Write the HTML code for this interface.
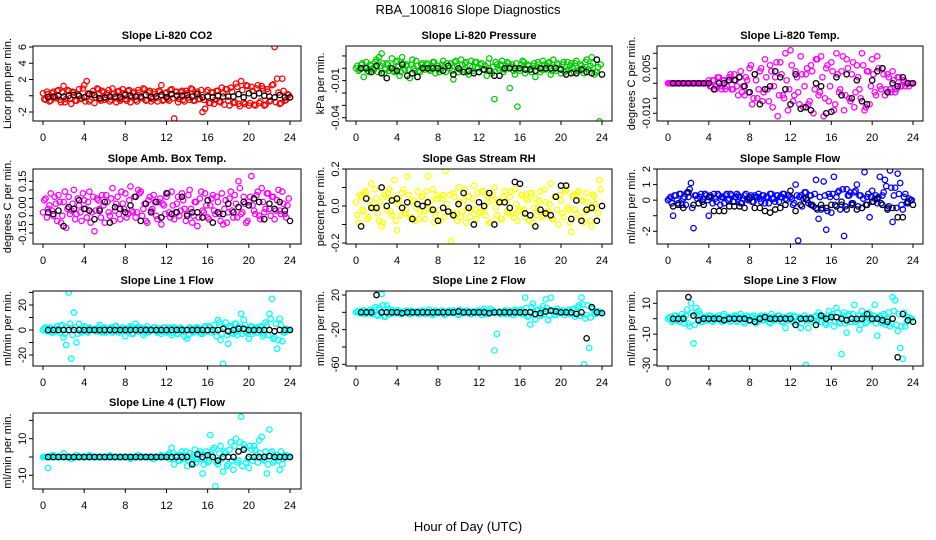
<!DOCTYPE html>
<html><head><meta charset="utf-8"><style>
body{margin:0;background:#fff}
svg{display:block;font-family:"Liberation Sans",sans-serif}
</style></head><body>
<svg id="chart" width="936" height="540" viewBox="0 0 936 540" xmlns="http://www.w3.org/2000/svg">
<rect width="936" height="540" fill="#fff"/>
<text x="468" y="14" text-anchor="middle" font-size="13">RBA_100816  Slope Diagnostics</text>
<text x="468" y="531" text-anchor="middle" font-size="13">Hour of Day (UTC)</text>
</svg>
<script>
// colored series A: x = i*0.25 h ; colored series B: x = i*0.25+0.125 h ; black series: x = 0.5 + i*0.5 h
const co2Col=[.3,-.5,.2,-.6,.5,-.3,.7,-.8,1.2,-.4,.6,-1,.4,-.6,.8,-.3,1.3,1.8,-.7,.2,-.9,.9,-.4,.6,-.5,.3,-.7,.9,-.3,.5,-.6,.8,-.4,.6,-.8,.3,-.5,.7,-.3,.9,-.6,.4,-.7,.5,-.3,.6,1.3,-.5,.4,-.6,.8,-2.8,.5,-.4,.6,-.7,.3,-.5,.8,-.6,.5,-.4,-2,-1.6,.7,-.9,.4,-.5,.6,-.8,.3,.8,-.6,1,-.9,1.5,-1,1.8,-.8,1.3,-1.2,1.1,-1.1,.9,-.9,1.2,-1.2,.8,-.7,1.3,6,2.1,-1,2.1,-.6,.2];
const co2ColB=[-.4,.5,-.7,.3,-.2,.6,-.5,.4,-.8,.7,-.3,.5,-.6,.2,-.4,.9,-.7,.3,-.5,.6,-.2,.8,-.6,.4,-.3,.7,-.5,.2,-.8,.6,-.4,.3,-.6,.7,-.2,.5,-.7,.4,-.3,.8,-.5,.6,-.4,.2,-.7,.5,-.6,.3,-.4,.7,-.3,.5,-.8,.4,-.5,.6,-.2,.9,-.6,.3,-.4,.7,-.5,.5,-.9,.4,-1,.6,-.7,1,-1.1,.8,-1.2,.5,-.8,1.1,-1.3,.7,-1,1.2,-.9,.6,-1.2,1.3,-.7,.9,-1.1,.5,-.6,1.4,-.8,.4,-.9,.6,-.5,.1];
const co2Blk=[-.2,-.1,0,-.1,0,.1,0,-.2,.2,.1,-.3,-.2,-.1,-.1,-.2,.1,0,-.1,-.1,.1,-.2,-.1,.1,-.2,.2,0,0,.1,-.1,.2,-.2,-.1,-.2,0,-.1,-.1,-.1,.2,-.2,.3,0,.3,0,-.1,-.2,.1,-.2,-.2];
const presCol_milli=[0,-2,3,-7,5,-3,2,-1,7,9,12,-4,4,-2,8,-3,6,-6,9,-1,3,-8,7,-2,2,-3,4,-1,3,-2,5,-4,2,-1,6,-3,-45,4,-9,6,-3,7,-1,5,-5,6,-2,5,-3,4,-1,-6,8,-4,-25,3,-2,6,-1,5,-16,3,-5,-31,-2,6,-4,3,-1,2,-7,5,-3,6,-1,4,-5,7,-2,3,-4,5,-2,-1,4,-3,6,-2,2,-4,7,-1,9,-5,-3,-43];
const presColB_milli=[2,-1,4,1,-2,3,0,5,-3,2,4,-1,3,0,-2,5,1,-3,4,2,-1,3,0,6,-2,3,1,4,-1,2,5,0,-3,3,1,4,0,-2,5,2,-1,3,4,-3,2,1,5,0,3,-1,2,4,-2,1,5,0,3,-3,2,4,1,-2,4,0,3,5,-1,2,-3,4,1,3,-1,3,2,5,-2,1,4,0,3,-3,5,2,1,4,-2,3,0,5,-1,2,4,-3,1,3];
const presBlk_milli=[0,0,-3,2,-4,-8,0,-2,3,-6,-4,-7,0,0,0,0,-2,2,-5,0,-3,-2,-4,-3,-1,-2,-6,-6,0,0,0,0,-1,-1,-2,0,0,0,0,-1,-5,-4,-4,-1,-3,-4,7,-5];
const tempCol_milli=[0,0,0,0,0,0,0,0,0,0,0,0,0,0,0,0,1,-1,1,-1,2,-2,1,-1,2,-2,3,-1,2,-3,-4,1,5,-7,3,-5,4,-6,8,-2,6,-8,2,-11,7,-4,10,-9,11,-6,4,-3,9,-8,3,-7,6,-10,8,-4,9,-11,5,-6,7,-9,10,-3,4,-9,8,-5,3,-8,6,-2,10,-9,4,-7,8,-3,9,-1,5,-4,3,-2,4,-3,2,-1,1,-1,0,0];
const tempColB_milli=[0,0,0,0,0,0,0,0,0,0,0,0,0,0,0,0,-1,1,-2,2,-1,1,-2,1,3,-2,1,-4,4,-1,2,-3,6,-5,1,-2,5,-3,2,-6,4,-1,7,-4,3,-5,1,-2,6,-4,2,-7,3,-1,5,-6,4,-2,8,-3,2,-5,6,-1,4,-7,3,-2,9,-4,5,-6,7,-3,2,-5,6,-8,4,-1,3,-4,5,-2,3,-2,2,-3,1,-2,2,-1,1,0,-1,0];
const tempBlk_milli=[0,0,0,0,0,0,0,0,-2,0,0,1,1,2,-1,-3,3,-7,-2,-1,4,2,-2,-7,3,-8.5,-8,-9,0,-1,-10,-9.5,2,-4,3,-5,1,-6,-7,1,4,5,-3,0,-1,2,0,0];
const ambCol_centi=[-3,5,-1,8,-5,2,7,-9,3,-12,6,-2,10,-4,1,-8,4,-6,9,-3,-14,5,-1,7,-9,3,-5,11,-2,6,-7,2,8,-4,12,-3,-6,10,9,-1,-8,4,-2,7,-5,3,-10,1,6,-3,9,-7,2,-5,8,-1,-4,10,-9,3,-11,5,-2,8,-6,1,7,-4,3,-8,-10,4,-3,9,-6,2,15,-4,6,-9,3,18,-2,7,-5,11,-3,8,-1,6,-7,4,-2,9,-4,1];
const ambColB_centi=[4,-6,1,-2,6,-8,3,-5,9,-1,-4,2,-7,5,-3,8,-1,3,-9,6,-2,4,-6,1,7,-3,5,-8,2,-4,9,-1,-6,4,-2,6,-3,8,-5,2,-9,6,-1,3,-7,5,2,-4,8,-6,1,-3,6,-2,4,-8,7,-1,-5,3,-6,9,-3,1,-7,5,-2,6,-4,8,-1,-9,5,-2,7,-6,11,-3,2,-8,6,1,-4,9,-7,3,-1,8,-5,6,-2,10,-4,2,-6,5];
const ambBlk_centi=[-3,-4,-2,-11,0,-1,4,-1,-2,-7,-2,3,-9,0,-1,-3,1,6,-8,2,-3,3,-6,8,-4,-3,6,-5,-3,-3,-6,4,-9,-3,-4,2,-3,0,3,1,5,3,-7,2,-1,3,-2,-8];
const rhCol_centi=[2,-9,5,-3,7,-6,12,-1,4,-8,-11,6,-2,9,-5,14,-13,3,7,-4,16,-6,2,-8,8,-3,5,-7,16,-2,9,-5,4,-8,6,19,-3,-19,7,-4,10,-6,3,-9,5,-2,11,-7,-4,8,-1,6,-9,3,10,-5,2,-7,8,-3,5,-4,9,-8,-2,6,-6,3,7,-9,4,-1,8,-5,2,-3,12,-7,5,-10,3,-6,9,-2,-14,6,-4,8,3,-9,7,-2,-11,5,-1,14];
const rhColB_centi=[-5,6,-2,8,-7,3,-1,9,-4,2,-9,5,7,-3,4,-8,1,-5,9,-2,6,-6,3,-1,-7,5,-3,8,-1,3,-9,6,-2,4,-6,1,6,-4,5,-8,2,-3,9,-1,-6,4,-2,7,-3,8,-5,2,-9,6,-1,3,-7,5,2,-4,8,-6,1,-3,6,-2,4,-8,7,-1,-5,3,-6,9,-3,1,-7,5,-2,6,-4,8,-1,-9,5,-2,7,-6,3,-3,2,-8,6,1,-4,9];
const rhBlk_centi=[-11,4,-1,-1,10,0,3,4,-1,2,-7,1,0,2,-2,-8,-1,-3,-5,1,7,-1,-10,2,0,7,-10,2,2,-1,13,12,-4,-5,-11,-2,-4,-5,5,11,11,-7,3,-8,-2,-1,-8,0];
const flowCol=[0,.2,-1,.3,-.2,.4,.1,-.3,.2,1.1,-1.8,.3,-.2,.4,.1,.3,-1,.2,.4,-.1,.3,.2,-.2,.4,.1,.3,-.1,.4,.2,-.2,.3,.1,.2,-.1,.3,.2,.1,.3,-.2,.2,.4,.1,-.1,.3,.2,.4,.1,.3,.2,-.3,1,-2.6,.3,.1,.5,-.2,.3,-.4,1.3,-1.2,-.6,1.2,-1.9,.4,-.8,1.5,.2,.6,-.3,-2.3,.7,.3,-.2,.5,1,.3,-.5,1.8,.2,-1.1,.6,.1,-.2,1.5,.3,1.3,-.5,1.9,-1.4,.8,1.7,1.1,-.6,.4,-.2,0];
const flowColB=[.1,-.2,.3,0,.4,-.3,.2,.5,.7,-.5,.3,.1,.2,-.1,.4,0,.3,-.2,.1,.4,-.3,.2,.3,0,.4,-.1,.2,.3,-.2,.1,.4,0,.3,-.1,.2,.4,-.1,.3,.2,-.2,.4,.1,.3,-.1,.2,.4,0,.3,.1,-.2,.3,.2,-.4,.5,0,.3,-.3,.4,-.6,.2,-.5,.3,-.7,.2,.4,-.3,.5,-.6,.7,-.4,.3,.5,-.2,.6,-.4,.3,.1,-.3,.4,.2,-.1,.3,.2,-.2,.5,.9,-.4,.8,.3,-.5,.4,-.3,.2,-.2,.1,0];
const flowBlk=[-.4,-.3,-.5,.5,-.3,-.2,-.3,.2,-.7,-.7,-.7,-.4,-.4,-.4,-.5,.1,-.5,-.5,-.7,-.8,-.6,-.5,-.3,.6,-.7,-.3,.1,-.3,-.5,-.3,-.5,-.3,-.4,-.1,-.6,-.3,-.6,-.5,-.3,-.1,.1,-.3,-.6,-.5,-1.1,-1.1,-.1,-.3];
const l1Col=[0,2,-1,1,-2,1,0,3,-6,-12,30,-23,14,-10,5,-2,3,-1,2,0,1,-1,4,-2,2,-1,1,-2,3,0,-1,2,-5,1,3,-3,5,-1,2,-4,1,-2,0,2,-1,1,-3,2,-2,1,-4,2,-3,0,1,-5,-7,2,-1,1,2,-2,-3,3,-1,2,0,-1,8,-8,-27,6,-11,2,-3,5,-1,13,8,-2,-7,3,-1,2,0,2,-3,4,13,25,-6,-15,9,-9,-2,0];
const l1ColB=[1,-1,2,-2,1,3,-2,4,-3,2,5,-4,2,-3,1,-1,2,-2,1,0,-1,2,-1,1,-2,1,2,-1,3,-2,0,1,-1,2,-3,1,2,-1,1,-2,3,-1,0,2,-2,1,-1,2,-1,2,-2,1,-3,2,-1,0,-4,1,-2,2,1,-3,2,-1,3,-2,4,-5,6,-3,2,-4,3,-2,5,-4,2,-3,4,-1,2,-3,1,-2,3,-5,6,-4,9,-7,5,-8,4,-2,1,0];
const l1Blk=[0,0,0,0,0,0,0,0,0,0,0,0,0,0,0,0,0,0,0,0,0,0,0,0,0,0,0,0,0,0,0,0,0,0,1,-1,0,1,1,0,0,0,0,0,-1,0,0,0];
const l2Col=[0,1,-1,2,0,-1,1,2,-3,5,21,-5,8,-2,3,-1,2,0,-1,1,2,-2,1,0,1,-1,2,-2,0,1,-3,2,-1,1,0,-2,1,-1,2,0,-3,1,-1,2,0,-2,1,-1,2,-3,4,-2,1,0,-44,-25,1,-1,2,0,-2,1,3,-1,2,-2,17,-5,-14,10,-8,3,-4,7,15,-9,17,2,-3,1,-1,2,0,3,-2,4,-1,8,17,-60,-3,-41,5,-2,1,0];
const l2ColB=[1,-1,2,-2,1,3,-2,6,-4,3,8,-5,4,-2,1,-1,2,-2,1,0,-1,2,-1,1,-2,1,2,-1,3,-2,0,1,-1,2,-3,1,2,-1,1,-2,3,-1,0,2,-2,1,-1,2,-1,2,-2,1,4,2,-1,0,-2,1,-2,2,1,-3,2,-1,3,-2,5,-4,6,-3,2,-4,3,-2,5,-4,2,-3,4,-1,2,-3,1,-2,3,-5,6,-4,9,-7,8,-6,4,-2,1,0];
const l2Blk=[0,0,0,20,0,0,0,0,-1,0,0,0,0,0,0,0,0,0,0,1,0,0,0,0,0,-1,0,0,0,0,0,0,0,0,-2,-1,1,2,1,0,0,0,-2,0,-30,6,0,-1];
const l3Col=[0,1,-1,2,0,-1,1,2,-3,10,-16,7,5,-2,1,-1,2,0,-1,1,2,-2,3,0,1,-1,2,-2,0,1,-3,2,-1,1,0,-2,1,-1,2,0,-3,1,-1,2,0,-2,-6,-1,2,-2,1,-1,-6,0,-30,-6,1,-1,2,4,-2,1,-4,5,2,-5,7,-2,-23,4,-9,3,-2,9,-1,-7,5,1,-2,3,-1,9,-11,2,-3,2,0,-5,14,12,-8,-19,-26,-5,1,0];
const l3ColB=[1,-2,2,-1,-2,3,-3,6,-5,4,-4,2,3,-2,1,-1,2,-2,1,0,-1,2,-1,1,-2,1,2,-1,3,-2,0,1,-1,2,-3,1,2,-1,1,-2,3,-1,0,2,-2,1,-1,2,-1,2,-2,1,-3,2,-1,0,-2,1,-2,2,1,-3,2,-1,3,-2,4,-3,2,-3,2,-2,3,-2,2,-4,2,-3,4,-1,2,-3,1,-2,3,-4,4,-3,5,-4,3,-5,4,-2,1,0];
const l3Blk=[0,0,0,14,2,-1,0,0,0,0,-1,0,0,0,0,-1,-2,0,1,0,0,0,0,0,-4,0,0,0,-4,2,0,1,1,0,-1,0,0,0,3,0,0,-1,-2,0,-25,3,-1,-2];
const l4Col=[0,0,-6,0,1,0,0,0,2,0,0,-1,0,1,0,0,0,0,1,0,0,0,0,0,0,0,1,0,0,0,0,0,0,0,-1,0,0,1,0,0,0,0,0,-1,0,0,1,0,0,2,5,-4,1,-2,3,-1,-5,2,-3,4,-1,3,-9,1,-3,12,4,-16,-4,6,-8,2,-4,8,-7,10,-2,22,7,-3,-6,4,6,1,9,11,-2,-9,15,3,-2,1,-7,-4,1,0];
const l4ColB=[0,0,0,1,0,0,0,0,0,0,0,0,0,0,0,0,0,0,0,0,0,0,0,0,0,0,0,0,0,0,0,0,0,0,0,0,0,0,0,0,0,0,0,0,0,0,0,0,1,-1,2,0,-2,1,-1,3,-2,0,1,-3,2,-1,-4,3,-2,1,5,-3,2,-1,3,-5,4,-2,6,-3,8,-5,5,-1,6,-2,4,-3,2,-1,3,-4,2,-3,1,-2,3,-1,1,0];
const l4Blk=[0,0,0,0,0,0,0,0,0,0,0,0,0,0,0,0,0,0,0,0,0,0,0,0,0,0,0,0,-4,1.5,0,1,0,-2,0,0,0,3,4,0,0,0,0,.5,0,0,0,0];
const xTicks=[0,4,8,12,16,20,24];

const NS='http://www.w3.org/2000/svg';
const svg=document.getElementById('chart');
const cols=[{l:33,r:301,x0:43,x24:290},{l:346,r:612,x0:356,x24:602},{l:657,r:923,x0:668,x24:913}];
const rows=[{t:46,b:121},{t:169,b:244},{t:291,b:366},{t:413,b:489}];
const panels=[
 {name:'co2',title:'Slope Li-820 CO2',yl:'Licor ppm per min.',c:0,r:0,col:'#ff0000',cd:co2Col,cd2:co2ColB,bd:co2Blk,k:1,ref:[6,47,-2,112],ticks:[6,4,2,0,-2],labs:['6','4','2','','-2']},
 {name:'pressure',title:'Slope Li-820 Pressure',yl:'kPa per min.',c:1,r:0,col:'#00cd00',cd:presCol_milli,cd2:presColB_milli,bd:presBlk_milli,k:0.001,ref:[0,68.3,-0.04,117.7],ticks:[0.01,0,-0.01,-0.02,-0.03,-0.04],labs:['','','-0.01','','','-0.04']},
 {name:'li820-temp',title:'Slope Li-820 Temp.',yl:'degrees C per min.',c:2,r:0,col:'#ff00ff',cd:tempCol_milli,cd2:tempColB_milli,bd:tempBlk_milli,k:0.001,ref:[0,83.3,0.005,68.3],ticks:[0.01,0.005,0,-0.005,-0.01],labs:['','0.005','','','-0.010']},
 {name:'amb-box-temp',title:'Slope Amb. Box Temp.',yl:'degrees C per min.',c:0,r:1,col:'#ff00ff',cd:ambCol_centi,cd2:ambColB_centi,bd:ambBlk_centi,k:0.01,ref:[0.15,181.3,-0.15,233],ticks:[0.15,0.1,0.05,0,-0.05,-0.1,-0.15],labs:['0.15','','','0.00','','','-0.15']},
 {name:'gas-stream-rh',title:'Slope Gas Stream RH',yl:'percent per min.',c:1,r:1,col:'#ffff00',cd:rhCol_centi,cd2:rhColB_centi,bd:rhBlk_centi,k:0.01,ref:[0.2,169,-0.2,243],ticks:[0.2,0.1,0,-0.1,-0.2],labs:['0.2','','0.0','','-0.2']},
 {name:'sample-flow',title:'Slope Sample Flow',yl:'ml/min per min.',c:2,r:1,col:'#0000ff',cd:flowCol,cd2:flowColB,bd:flowBlk,k:1,ref:[2,169,-2,231.3],ticks:[2,1,0,-1,-2],labs:['2','1','0','','-2']},
 {name:'line1-flow',title:'Slope Line 1 Flow',yl:'ml/min per min.',c:0,r:2,col:'#00ffff',cd:l1Col,cd2:l1ColB,bd:l1Blk,k:1,ref:[20,305,-20,355],ticks:[30,20,10,0,-10,-20],labs:['','20','','0','','-20']},
 {name:'line2-flow',title:'Slope Line 2 Flow',yl:'ml/min per min.',c:1,r:2,col:'#00ffff',cd:l2Col,cd2:l2ColB,bd:l2Blk,k:1,ref:[20,295,-60,364.3],ticks:[20,0,-20,-40,-60],labs:['20','','-20','','-60']},
 {name:'line3-flow',title:'Slope Line 3 Flow',yl:'ml/min per min.',c:2,r:2,col:'#00ffff',cd:l3Col,cd2:l3ColB,bd:l3Blk,k:1,ref:[10,303.3,-30,365],ticks:[10,0,-10,-20,-30],labs:['10','','-10','','-30']},
 {name:'line4-flow',title:'Slope Line 4 (LT) Flow',yl:'ml/min per min.',c:0,r:3,col:'#00ffff',cd:l4Col,cd2:l4ColB,bd:l4Blk,k:1,ref:[10,438.7,-10,475.3],ticks:[20,10,0,-10],labs:['','10','','-10']}
];
function mk(tag,attrs,parent){const e=document.createElementNS(NS,tag);for(const a in attrs)e.setAttribute(a,attrs[a]);(parent||svg).appendChild(e);return e;}
panels.forEach(p=>{
  const C=cols[p.c],R=rows[p.r];
  const xs=h=>C.x0+(C.x24-C.x0)*h/24;
  const [v1,p1,v2,p2]=p.ref;
  const ys=v=>p1+(v-v1)*(p2-p1)/(v2-v1);
  const g=mk('g',{});
  
  
  const clipId='clip-'+p.name;
  const cp=mk('clipPath',{id:clipId},g);
  mk('rect',{x:C.l,y:R.t,width:C.r-C.l,height:R.b-R.t},cp);
  const t=mk('text',{x:(C.l+C.r)/2,y:R.t-7,'text-anchor':'middle','font-size':'11','font-weight':'bold'},g);
  t.textContent=p.title;
  
  
  const yl=mk('text',{transform:`translate(${C.l-22},${(R.t+R.b)/2}) rotate(-90)`,'text-anchor':'middle','font-size':'11'},g);
  yl.textContent=p.yl;
  
  
  const pts=mk('g',{'clip-path':`url(#${clipId})`,fill:'none','stroke-width':'1.3'},g);
  
  
  p.cd.forEach((v,i)=>{const c=mk('circle',{cx:xs(i*0.25),cy:ys(v*p.k),r:2.7,stroke:p.col},pts);
    
    });
  p.cd2.forEach((v,i)=>{const c=mk('circle',{cx:xs(i*0.25+0.125),cy:ys(v*p.k),r:2.7,stroke:p.col},pts);
    
    });
  p.bd.forEach((v,i)=>{const c=mk('circle',{cx:xs(0.5+i*0.5),cy:ys(v*p.k),r:2.7,stroke:'#000'},pts);
    
    });
  const box=mk('rect',{x:C.l,y:R.t,width:C.r-C.l,height:R.b-R.t,fill:'none',stroke:'#000','stroke-width':'1'},g);
  
  
  xTicks.forEach(h=>{
    const x=xs(h);
    mk('line',{x1:x,x2:x,y1:R.b,y2:R.b+4,stroke:'#000'},g);
    const lt=mk('text',{x:x,y:R.b+20,'text-anchor':'middle','font-size':'11'},g);
    lt.textContent=h;
    
    
  });
  p.ticks.forEach((v,i)=>{
    const y=ys(v);
    mk('line',{x1:C.l-4,x2:C.l,y1:y,y2:y,stroke:'#000'},g);
    if(p.labs[i]){
      const lt=mk('text',{transform:`translate(${C.l-7},${y}) rotate(-90)`,'text-anchor':'middle','font-size':'11'},g);
      lt.textContent=p.labs[i];
      
      
    }
  });
});
</script>
</body></html>
